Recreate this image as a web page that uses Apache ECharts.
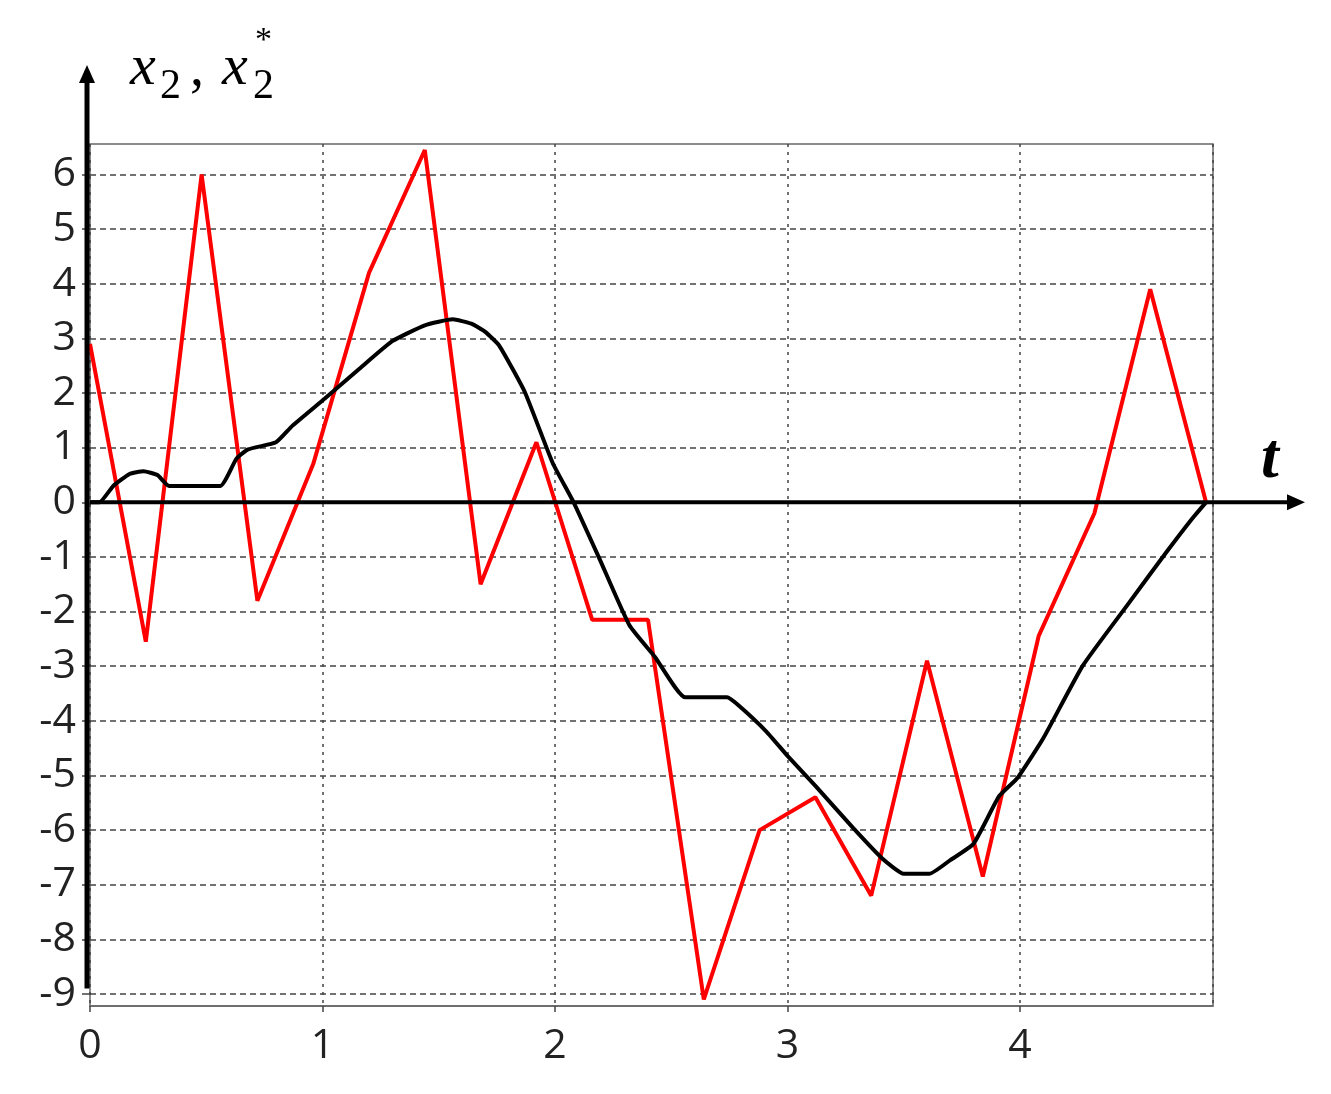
<!DOCTYPE html>
<html>
<head>
<meta charset="utf-8">
<script src="https://cdn.jsdelivr.net/npm/echarts@6/dist/echarts.min.js"></script>
<style>
html, body { margin: 0; padding: 0; background: #fff; }
#chart { width: 1331px; height: 1094px; }
</style>
</head>
<body>
<div id="chart"></div>
<script>
// x2 (red) - piecewise linear, step 0.24
const redT = [0, 0.24, 0.48, 0.72, 0.96, 1.2, 1.44, 1.68, 1.92, 2.16, 2.4, 2.64, 2.88, 3.12, 3.36, 3.6, 3.84, 4.08, 4.32, 4.56, 4.8]
const redY = [2.9, -2.55, 6.0, -1.8, 0.7, 4.2, 6.45, -1.5, 1.1, -2.15, -2.15, -9.1, -6.0, -5.4, -7.2, -2.9, -6.85, -2.45, -0.2, 3.9, 0]
// x2* (black)
const blackT = [0, 0.04, 0.1, 0.17, 0.23, 0.29, 0.34, 0.56, 0.63, 0.68, 0.8, 0.87, 1.01, 1.16, 1.3, 1.44, 1.56, 1.64, 1.7, 1.76, 1.87, 1.99, 2.08, 2.19, 2.32, 2.43, 2.56, 2.74, 2.79, 2.91, 3.0, 3.12, 3.28, 3.41, 3.5, 3.61, 3.7, 3.8, 3.91, 3.99, 4.1, 4.27, 4.46, 4.63, 4.74, 4.8]
const blackY = [0, 0, 0.3, 0.52, 0.57, 0.5, 0.3, 0.3, 0.8, 0.97, 1.1, 1.4, 1.9, 2.45, 2.95, 3.24, 3.35, 3.27, 3.12, 2.87, 2.02, 0.72, 0, -1.02, -2.25, -2.83, -3.57, -3.57, -3.72, -4.2, -4.64, -5.19, -5.95, -6.53, -6.8, -6.8, -6.55, -6.25, -5.38, -5.04, -4.32, -2.99, -1.89, -0.91, -0.3, 0]
const yTicks = [-9, -8, -7, -6, -5, -4, -3, -2, -1, 0, 1, 2, 3, 4, 5, 6]
const xMin = 0, xMax = 4.83
const yMin = -9.22, yMax = 6.56

const redData = redT.map((t, i) => [t, redY[i]])
const blackData = blackT.map((t, i) => [t, blackY[i]])

const chart = echarts.init(document.getElementById('chart'))
const labelFont = '"Open Sans", "Noto Sans", sans-serif'

chart.setOption({
  animation: false,
  backgroundColor: '#fff',
  grid: {
    left: 90, right: 118, top: 144, bottom: 88,
    show: true, borderColor: '#666', borderWidth: 1.5, backgroundColor: 'transparent'
  },
  xAxis: {
    type: 'value', min: xMin, max: xMax, interval: 1,
    axisLine: { show: true, onZero: false, lineStyle: { color: '#666', width: 1.5 } },
    axisTick: { show: true, length: 6, lineStyle: { color: '#444', width: 1.5 } },
    axisLabel: {
      margin: 20, fontSize: 41, color: '#222', fontFamily: labelFont,
      showMaxLabel: false,
      formatter: v => (Number.isInteger(v) ? String(v) : '')
    },
    splitLine: { show: true, lineStyle: { color: '#444', width: 1.5, type: [3, 5] } }
  },
  yAxis: {
    type: 'value', min: yMin, max: yMax,
    axisLine: { show: false },
    axisTick: { show: true, length: 8, customValues: yTicks, lineStyle: { color: '#444', width: 1.5 } },
    axisLabel: {
      margin: 14, fontSize: 41, color: '#222', fontFamily: labelFont,
      customValues: yTicks
    },
    splitLine: { show: true, lineStyle: { color: '#444', width: 1.5, type: [6, 4] } }
  },
  series: [
    {
      name: 'x2', type: 'line', data: redData, symbol: 'none', smooth: false,
      lineStyle: { color: '#ff0000', width: 4 }, z: 3
    },
    {
      name: 'x2*', type: 'line', data: blackData, symbol: 'none', smooth: 0.15,
      lineStyle: { color: '#000', width: 4 }, z: 4
    }
  ]
})

// axes with arrows, placed from the chart's own scales
const p0 = chart.convertToPixel({ gridIndex: 0 }, [0, 0])
const pBot = chart.convertToPixel({ gridIndex: 0 }, [0, -8.9])
const pRight = chart.convertToPixel({ gridIndex: 0 }, [xMax, 0])
const ax = p0[0] - 3
const yTip = 65
const xTip = pRight[0] + 92
const serif = '"Liberation Serif", "DejaVu Serif", serif'

chart.setOption({
  graphic: [
    { type: 'line', z: 10, shape: { x1: ax, y1: pBot[1], x2: ax, y2: yTip + 14 }, style: { stroke: '#000', lineWidth: 5 } },
    { type: 'polygon', z: 10, shape: { points: [[ax, yTip], [ax - 8, yTip + 18], [ax + 8, yTip + 18]] }, style: { fill: '#000' } },
    { type: 'line', z: 10, shape: { x1: p0[0], y1: p0[1], x2: xTip - 14, y2: p0[1] }, style: { stroke: '#000', lineWidth: 4 } },
    { type: 'polygon', z: 10, shape: { points: [[xTip, p0[1]], [xTip - 18, p0[1] - 8], [xTip - 18, p0[1] + 8]] }, style: { fill: '#000' } },
    { type: 'text', z: 10, x: 1261, y: 428, style: { text: 't', font: 'italic bold 64px ' + serif, fill: '#000' } },
    { type: 'text', z: 10, x: 130, y: 40, style: { text: 'x', font: 'italic 58px ' + serif, fill: '#000' } },
    { type: 'text', z: 10, x: 160, y: 66, style: { text: '2', font: '42px ' + serif, fill: '#000' } },
    { type: 'text', z: 10, x: 190, y: 42, style: { text: ',', font: '56px ' + serif, fill: '#000' } },
    { type: 'text', z: 10, x: 222, y: 40, style: { text: 'x', font: 'italic 58px ' + serif, fill: '#000' } },
    { type: 'text', z: 10, x: 253, y: 66, style: { text: '2', font: '42px ' + serif, fill: '#000' } },
    { type: 'text', z: 10, x: 255, y: 24, style: { text: '*', font: '34px ' + serif, fill: '#000' } }
  ]
})
</script>
</body>
</html>
